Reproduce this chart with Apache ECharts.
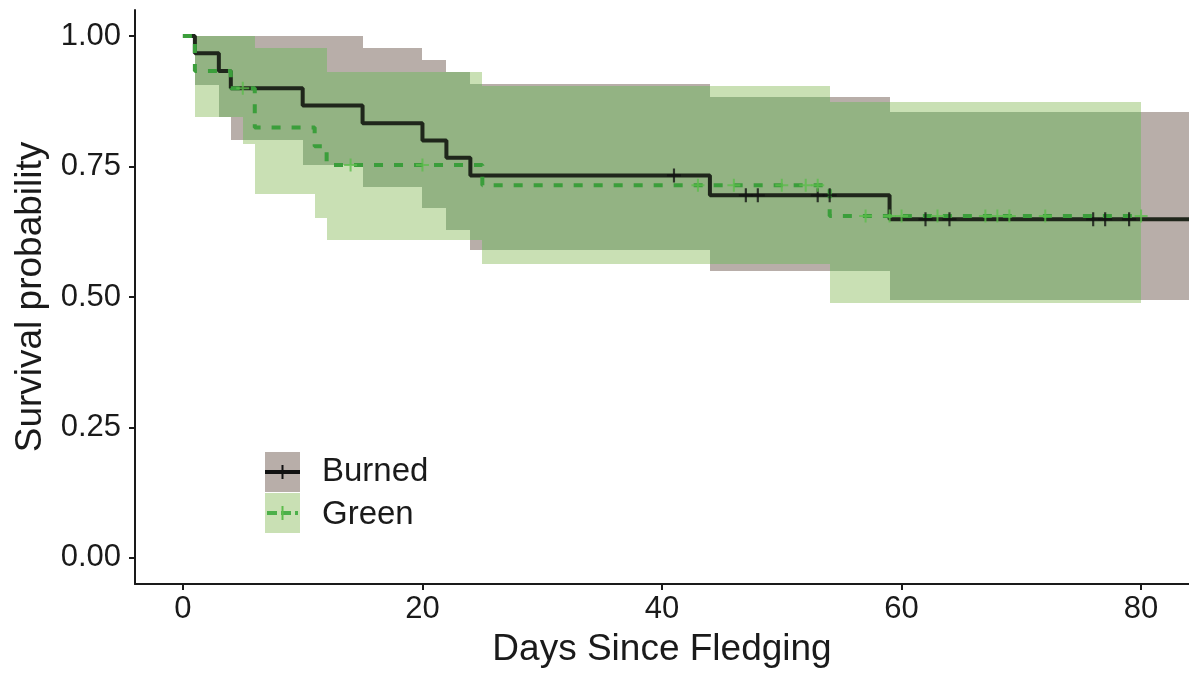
<!DOCTYPE html>
<html>
<head>
<meta charset="utf-8">
<script src="https://cdn.jsdelivr.net/npm/echarts@6/dist/echarts.min.js"></script>
<style>
  html, body { margin: 0; padding: 0; background: #fff; }
  #main { width: 1189px; height: 675px; }
</style>
</head>
<body>
<div id="main"></div>
<script>
// Kaplan-Meier steps: each value holds from its day to the next day
const burnedDays   = [0, 1, 3, 4, 10, 15, 20, 22, 24, 44, 59, 84];
const burnedSurv   = [1, 0.967, 0.933, 0.90, 0.867, 0.833, 0.80, 0.767, 0.733, 0.695, 0.649, 0.649];
const burnedLower  = [1, 0.906, 0.845, 0.80, 0.753, 0.711, 0.67, 0.628, 0.591, 0.55, 0.494, 0.494];
const burnedUpper  = [1, 1, 1, 1, 1, 0.977, 0.955, 0.932, 0.909, 0.884, 0.855, 0.855];
const burnedCensor = [41, 47, 48, 53, 54, 62, 64, 76, 77, 79];

const greenDays   = [0, 1, 4, 5, 6, 11, 12, 25, 54, 80];
const greenSurv   = [1, 0.933, 0.90, 0.90, 0.825, 0.789, 0.753, 0.714, 0.655, 0.655];
const greenLower  = [1, 0.845, 0.845, 0.794, 0.697, 0.652, 0.609, 0.564, 0.489, 0.489];
const greenUpper  = [1, 1, 1, 1, 0.977, 0.977, 0.932, 0.904, 0.874, 0.874];
const greenCensor = [5, 14, 20, 43, 46, 50, 52, 53, 57, 59, 60, 63, 67, 68, 69, 72, 80];

const xTicks = [0, 20, 40, 60, 80];
const yTicks = [0, 0.25, 0.5, 0.75, 1];

const GRAY = '#b8aea9';
const LIGHT = '#c9e0b4';
const DARK = '#93b383';
const FONT = 'Liberation Sans, Arial, sans-serif';
const PLUS = 'path://M5.5,0H7.5V5.5H13V7.5H7.5V13H5.5V7.5H0V5.5H5.5Z';

function stepAt(days, vals, d) {
  let v = vals[0];
  for (let i = 0; i < days.length; i++) if (days[i] <= d) v = vals[i];
  return v;
}

function bandRows(days, lo, hi) {
  const rows = [];
  for (let i = 0; i < days.length - 1; i++) rows.push([days[i], days[i + 1], lo[i], hi[i]]);
  return rows;
}

// where both confidence bands overlap
function overlapRows() {
  const end = Math.min(burnedDays[burnedDays.length - 1], greenDays[greenDays.length - 1]);
  const cuts = Array.from(new Set(burnedDays.concat(greenDays))).filter(d => d <= end).sort((a, b) => a - b);
  const rows = [];
  for (let i = 0; i < cuts.length - 1; i++) {
    const d = cuts[i];
    const lo = Math.max(stepAt(burnedDays, burnedLower, d), stepAt(greenDays, greenLower, d));
    const hi = Math.min(stepAt(burnedDays, burnedUpper, d), stepAt(greenDays, greenUpper, d));
    if (hi > lo) rows.push([d, cuts[i + 1], lo, hi]);
  }
  return rows;
}

function renderBand(params, api) {
  const p0 = api.coord([api.value(0), api.value(3)]);
  const p1 = api.coord([api.value(1), api.value(2)]);
  const x0 = Math.round(p0[0]), x1 = Math.round(p1[0]);
  const y0 = Math.round(p0[1]), y1 = Math.round(p1[1]);
  return {
    type: 'rect',
    shape: { x: x0, y: y0, width: x1 - x0, height: y1 - y0 },
    style: { fill: api.visual('color') }
  };
}

function band(name, rows, color, z) {
  return {
    name: name, type: 'custom', renderItem: renderBand, data: rows,
    encode: { x: [0, 1], y: [2, 3] }, itemStyle: { color: color },
    silent: true, z: z
  };
}

const chart = echarts.init(document.getElementById('main'));

chart.setOption({
  animation: false,
  grid: { left: 135, right: 0, top: 10, bottom: 91 },
  xAxis: {
    type: 'value', min: -4, max: 84,
    name: 'Days Since Fledging', nameLocation: 'middle', nameGap: 47,
    nameTextStyle: { fontFamily: FONT, fontSize: 37, color: '#1a1a1a' },
    axisLine: { onZero: false, lineStyle: { color: '#1a1a1a', width: 2 } },
    axisTick: { customValues: xTicks, length: 6, lineStyle: { color: '#1a1a1a', width: 2 } },
    axisLabel: { customValues: xTicks, margin: 10, fontFamily: FONT, fontSize: 31, color: '#1a1a1a' },
    splitLine: { show: false }
  },
  yAxis: {
    type: 'value', min: -0.05, max: 1.05,
    name: 'Survival probability', nameLocation: 'middle', nameGap: 86,
    nameTextStyle: { fontFamily: FONT, fontSize: 37, color: '#1a1a1a' },
    axisLine: { show: true, onZero: false, lineStyle: { color: '#1a1a1a', width: 2 } },
    axisTick: { show: true, customValues: yTicks, length: 6, lineStyle: { color: '#1a1a1a', width: 2 } },
    axisLabel: {
      customValues: yTicks, margin: 14, fontFamily: FONT, fontSize: 31, color: '#1a1a1a',
      formatter: v => v.toFixed(2)
    },
    splitLine: { show: false }
  },
  series: [
    band('Burned CI', bandRows(burnedDays, burnedLower, burnedUpper), GRAY, 1),
    band('Green CI', bandRows(greenDays, greenLower, greenUpper), LIGHT, 2),
    band('Overlap', overlapRows(), DARK, 3),
    {
      name: 'Burned', type: 'line', step: 'end', z: 5,
      data: burnedDays.map((d, i) => [d, burnedSurv[i]]),
      showSymbol: false, lineStyle: { color: '#1f261b', width: 4 }
    },
    {
      name: 'Green', type: 'line', step: 'end', z: 6,
      data: greenDays.map((d, i) => [d, greenSurv[i]]),
      showSymbol: false, lineStyle: { color: '#3b9e3b', width: 4, type: [9, 11], cap: 'butt' }
    },
    {
      name: 'Burned censored', type: 'scatter', z: 7, symbol: PLUS, symbolSize: 14,
      data: burnedCensor.map(d => [d, stepAt(burnedDays, burnedSurv, d)]),
      itemStyle: { color: '#111' }
    },
    {
      name: 'Green censored', type: 'scatter', z: 8, symbol: PLUS, symbolSize: 13,
      data: greenCensor.map(d => [d, stepAt(greenDays, greenSurv, d)]),
      itemStyle: { color: '#5cbd4c' }
    }
  ],
  graphic: [
    { type: 'rect', left: 265, top: 452, shape: { width: 35, height: 40 }, style: { fill: GRAY } },
    { type: 'line', shape: { x1: 265, y1: 472, x2: 300, y2: 472 }, style: { stroke: '#111', lineWidth: 4 } },
    { type: 'line', shape: { x1: 282.5, y1: 465, x2: 282.5, y2: 479 }, style: { stroke: '#111', lineWidth: 2 } },
    { type: 'rect', left: 265, top: 493, shape: { width: 35, height: 40 }, style: { fill: LIGHT } },
    { type: 'line', shape: { x1: 267, y1: 513, x2: 298, y2: 513 }, style: { stroke: '#4cb04a', lineWidth: 4, lineDash: [10, 4] } },
    { type: 'line', shape: { x1: 282.5, y1: 506, x2: 282.5, y2: 520 }, style: { stroke: '#5cbd4c', lineWidth: 2 } },
    { type: 'text', x: 322, y: 472, style: { text: 'Burned', font: '33px ' + FONT, fill: '#1a1a1a', verticalAlign: 'middle' } },
    { type: 'text', x: 322, y: 515, style: { text: 'Green', font: '33px ' + FONT, fill: '#1a1a1a', verticalAlign: 'middle' } }
  ]
});
</script>
</body>
</html>
